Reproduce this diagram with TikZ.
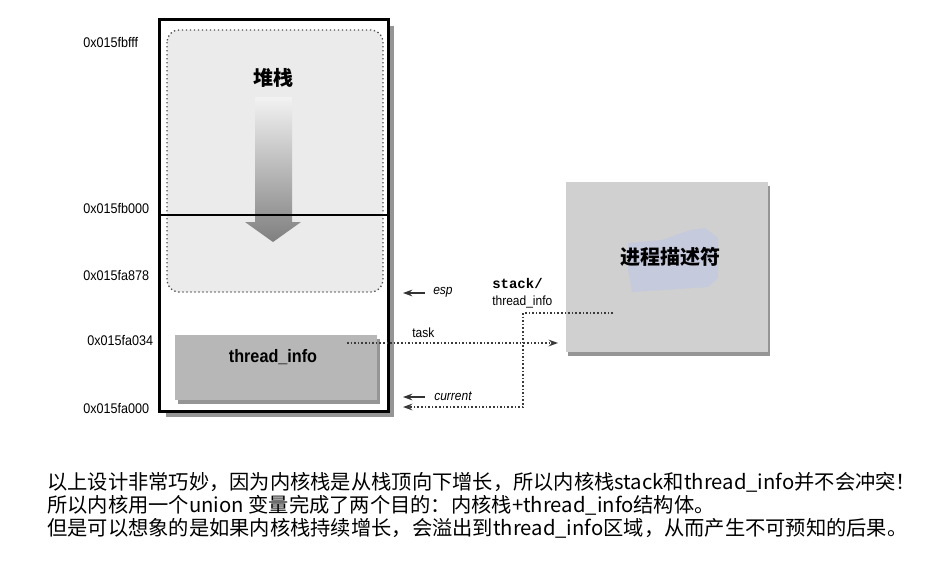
\documentclass[tikz,border=0pt]{standalone}
\usepackage{fontspec}
\usetikzlibrary{arrows.meta,fit}
\newfontfamily\lblfont[FakeStretch=0.9]{Liberation Sans}
\newfontfamily\cjkfont{Noto Sans CJK SC}
\newfontfamily\codefont{Liberation Mono}
\definecolor{stackgray}{HTML}{EBEBEB}
\definecolor{infogray}{HTML}{B7B7B7}
\definecolor{descgray}{HTML}{D0D0D0}
\definecolor{shadowgray}{HTML}{959595}
\definecolor{blobblue}{HTML}{C6CADD}
\definecolor{linkgray}{HTML}{3A3A3A}
\tikzset{
  addr/.style={font=\lblfont\fontsize{10.5}{12}\selectfont, anchor=west, inner sep=0},
  lbl/.style={font=\lblfont\fontsize{10}{12}\selectfont, anchor=west, inner sep=0},
  boxed/.style={inner sep=0},
  dotlink/.style={draw=linkgray, line width=1.2pt, dash pattern=on 1.2pt off 1.5pt, -{Stealth[length=7pt,width=5pt]}},
  ptr/.style={draw=black!80, line width=1pt, -{Stealth[length=7pt,width=5pt]}},
}
\begin{document}
\begin{tikzpicture}[x=0.75pt, y=-0.75pt]
  \useasboundingbox[fill=white] (0,0) rectangle (940,562);

  % Speicherbereich
  \fill[shadowgray] (166,26) rectangle (394,417);
  \node[boxed, fill=white, fit={(160,20) (388,411)}] (mem) {};
  \draw[dotted, line width=1pt, draw=black!70, fill=stackgray, rounded corners=9pt]
    (167,30) rectangle (383,292);
  \node[font=\cjkfont\bfseries\fontsize{15}{18}\selectfont] (stk) at (273,78) {堆栈};
  \shade[top color=white!95!black, bottom color=black!50]
    (255,97) -- (292,97) -- (292,222) -- (301,222) -- (273,242)
    -- (245,222) -- (255,222) -- cycle;
  \draw[line width=1pt] (mem.west |- 0,215) -- (mem.east |- 0,215);
  \draw[line width=2pt] (mem.south west) rectangle (mem.north east);

  % thread_info
  \fill[shadowgray] (178,339) rectangle (380,404);
  \node[boxed, fill=infogray, fit={(175,335) (377,400)}] (ti) {};
  \node[font=\lblfont\bfseries\fontsize{13.5}{16}\selectfont] (tilbl) at (273,357) {thread\_info};

  % Adressen
  \foreach \adr/\xx/\yy [count=\i] in {0x015fbfff/83/42, 0x015fb000/83/208,
      0x015fa878/83/275, 0x015fa034/87/340, 0x015fa000/83/408} {
    \node[addr] (a\i) at (\xx,\yy) {\adr};
  }

  % Prozessdeskriptor
  \fill[shadowgray] (568,186) rectangle (770,356);
  \node[boxed, fill=descgray, fit={(566,182) (768,352)}] (pd) {};
  \fill[blobblue] (628,243) -- (662,240) -- (690,230) -- (705,228) -- (718,238)
    -- (718,278) -- (708,287) -- (632,292) -- (628,270) -- cycle;
  \node[font=\cjkfont\bfseries\fontsize{15}{18}\selectfont] (pdlbl) at (670,257) {进程描述符};

  % Zeiger
  \coordinate (esptail) at (425,293);
  \coordinate (esphead) at (403,293);
  \coordinate (curtail) at (425,397);
  \coordinate (curhead) at (403,397);
  \coordinate (tasktail) at (347,343);
  \coordinate (taskhead) at (558,343);
  \coordinate (sti) at (613,313);
  \coordinate (bend) at (523,407);
  \coordinate (stihead) at (403,407);

  \draw[ptr] (esptail) -- (esphead);
  \node[lbl, font=\lblfont\itshape\fontsize{10}{12}\selectfont] (esp) at (433,292) {esp};
  \draw[ptr] (curtail) -- (curhead);
  \node[lbl, font=\lblfont\itshape\fontsize{10}{12}\selectfont] (cur) at (434,396) {current};

  \draw[dotlink] (tasktail) -- (taskhead);
  \node[lbl] (task) at (412,333) {task};

  \draw[dotlink] (sti) -| (bend) -- (stihead);
  \node[lbl, font=\codefont\bfseries\fontsize{10.5}{12}\selectfont] (stk2) at (492,283) {stack/};
  \node[lbl] (sti2) at (492,302) {thread\_info};

  % Erklaerung
  \node[anchor=west, align=left, inner sep=0, font=\cjkfont\fontsize{15.2}{17.3}\selectfont] (note) at (47,505)
    {以上设计非常巧妙，因为内核栈是从栈顶向下增长，所以内核栈stack和thread\_info并不会冲突！\\
     所以内核用一个union 变量完成了两个目的：内核栈+thread\_info结构体。\\
     但是可以想象的是如果内核栈持续增长，会溢出到thread\_info区域，从而产生不可预知的后果。};
\end{tikzpicture}
\end{document}
